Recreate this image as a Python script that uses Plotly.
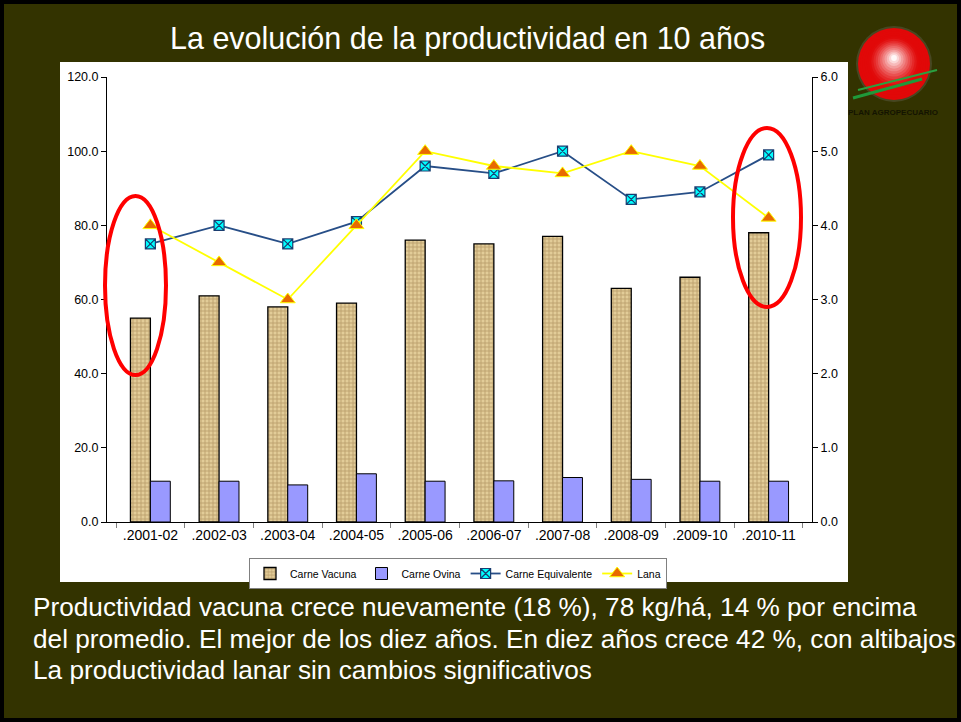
import plotly.graph_objects as go

# ---------------- data ----------------
categories = [".2001-02", ".2002-03", ".2003-04", ".2004-05", ".2005-06",
              ".2006-07", ".2007-08", ".2008-09", ".2009-10", ".2010-11"]
carne_vacuna = [55, 61, 58, 59, 76, 75, 77, 63, 66, 78]
carne_ovina = [11, 11, 10, 13, 11, 11.1, 12, 11.5, 11, 11]
carne_equivalente = [75, 80, 75, 81, 96, 94, 100, 87, 89, 99]
lana = [4.0, 3.5, 3.0, 4.0, 5.0, 4.8, 4.7, 5.0, 4.8, 4.1]

title_text = "La evolución de la productividad en 10 años"
note_lines = [
    "Productividad vacuna crece nuevamente (18 %), 78 kg/há, 14 % por encima",
    "del promedio. El mejor de los diez años. En diez años crece 42 %, con altibajos",
    "La productividad lanar sin cambios significativos",
]

# ---------------- geometry helpers (pixel -> paper) ----------------
W, H = 961, 722
L, R, T, B = 107, 812, 77, 522


def px(x):
    return (x - L) / (R - L)


def py(y):
    return (B - y) / (B - T)


ARIAL = "Liberation Sans, Arial, sans-serif"

fig = go.Figure()

fig.add_trace(go.Bar(
    x=categories, y=carne_vacuna, name="Carne Vacuna",
    marker=dict(color="#d9c08c", line=dict(color="#000000", width=1.3),
                pattern=dict(shape="+", bgcolor="#e2cc98", fgcolor="#94723f",
                             size=4, solidity=0.4)),
))
fig.add_trace(go.Bar(
    x=categories, y=carne_ovina, name="Carne Ovina",
    marker=dict(color="#9999ff", line=dict(color="#000000", width=1)),
))
fig.add_trace(go.Scatter(
    x=categories, y=carne_equivalente, name="Carne Equivalente",
    mode="lines+markers",
    line=dict(color="#274e87", width=1.8),
    marker=dict(symbol="square-x", size=10, color="#00ffff",
                line=dict(color="#1a3d70", width=1.2)),
))
fig.add_trace(go.Scatter(
    x=categories, y=lana, name="Lana", yaxis="y2",
    mode="lines+markers",
    line=dict(color="#ffff00", width=1.8),
    marker=dict(symbol="triangle-up", size=13, color="#e86a00",
                line=dict(color="#ffff00", width=1)),
))

shapes = []
# white chart box
shapes.append(dict(type="rect", xref="paper", yref="paper",
                   x0=px(60), x1=px(848), y0=py(62), y1=py(582),
                   fillcolor="#ffffff", line=dict(width=0), layer="below"))
# black outer frame (four thin bands)
for (a, b, c, d) in [(0, 0, W, 4), (0, H - 4, W, H), (0, 0, 4, H), (W - 4, 0, W, H)]:
    shapes.append(dict(type="rect", xref="paper", yref="paper",
                       x0=px(a), x1=px(c), y0=py(b), y1=py(d),
                       fillcolor="#000000", line=dict(width=0), layer="above"))

# logo sphere (concentric circles approximating radial gradient)
cx, cy, rad = 894, 64, 36
shapes.append(dict(type="circle", xref="paper", yref="paper",
                   x0=px(cx - rad - 2), x1=px(cx + rad + 2),
                   y0=py(cy - rad - 2), y1=py(cy + rad + 2),
                   fillcolor="rgba(120,120,110,0.3)", line=dict(width=0)))
n = 16
for i in range(n):
    f = i / (n - 1)
    r = rad * (1 - f * 0.92)
    t = max(0.0, (f - 0.3) / 0.7) ** 1.4
    col = "rgb(%d,%d,%d)" % (int(225 + 30 * t), int(8 + 240 * t), int(8 + 240 * t))
    oy = -6 * f
    shapes.append(dict(type="circle", xref="paper", yref="paper",
                       x0=px(cx - r), x1=px(cx + r),
                       y0=py(cy + oy - r), y1=py(cy + oy + r),
                       fillcolor=col, line=dict(width=0)))
# green streaks
shapes.append(dict(type="line", xref="paper", yref="paper",
                   x0=px(853), y0=py(98), x1=px(922), y1=py(79),
                   line=dict(color="#1f9a3a", width=3)))
shapes.append(dict(type="line", xref="paper", yref="paper",
                   x0=px(858), y0=py(90), x1=px(937), y1=py(70),
                   line=dict(color="#2aa040", width=2)))

# red ellipses
shapes.append(dict(type="circle", xref="paper", yref="paper",
                   x0=px(105), x1=px(166), y0=py(196), y1=py(375),
                   line=dict(color="#ff0000", width=4)))
shapes.append(dict(type="circle", xref="paper", yref="paper",
                   x0=px(733), x1=px(801), y0=py(128), y1=py(307),
                   line=dict(color="#ff0000", width=4)))

annotations = [
    dict(text=title_text, xref="paper", yref="paper", x=px(467), y=py(38),
         xanchor="center", yanchor="middle", showarrow=False,
         font=dict(family=ARIAL, size=30.5, color="#ffffff")),
    dict(text="<b>PLAN AGROPECUARIO</b>", xref="paper", yref="paper", x=px(893), y=py(113),
         xanchor="center", yanchor="middle", showarrow=False,
         font=dict(family=ARIAL, size=8, color="#141400")),
]
note_y = [607, 638.5, 670]
for line, yy in zip(note_lines, note_y):
    annotations.append(dict(text=line, xref="paper", yref="paper",
                            x=px(31), y=py(yy),
                            xanchor="left", yanchor="middle", showarrow=False,
                            font=dict(family=ARIAL, size=26.2, color="#ffffff")))

fig.update_layout(
    width=W, height=H,
    margin=dict(l=L, r=W - R, t=T, b=H - B, pad=0),
    paper_bgcolor="#333300",
    plot_bgcolor="#808080",
    barmode="group", bargap=0.42, bargroupgap=0,
    showlegend=True,
    legend=dict(orientation="h", x=px(458), y=py(558), xanchor="center", yanchor="top",
                bgcolor="#ffffff", bordercolor="#808080", borderwidth=1,
                font=dict(family=ARIAL, size=10.5, color="#000000"),
                itemwidth=30, tracegroupgap=0),
    xaxis=dict(showgrid=False, showline=True, linecolor="#000000", linewidth=1,
               ticks="outside", tickson="boundaries", ticklen=5, tickcolor="#808080",
               tickfont=dict(family=ARIAL, size=14, color="#000000"),
               zeroline=False),
    yaxis=dict(range=[0, 120], dtick=20, tickformat=".1f", showgrid=False,
               showline=True, linecolor="#000000", linewidth=1,
               ticks="outside", ticklen=5, tickcolor="#000000",
               tickfont=dict(family=ARIAL, size=12.5, color="#000000"),
               zeroline=False),
    yaxis2=dict(range=[0, 6], dtick=1, tickformat=".1f", overlaying="y", side="right",
                showgrid=False, showline=True, linecolor="#000000", linewidth=1,
                ticks="outside", ticklen=5, tickcolor="#000000",
                tickfont=dict(family=ARIAL, size=12.5, color="#000000"),
                zeroline=False),
    shapes=shapes,
    annotations=annotations,
)

fig.write_html("out.html",
               config={"displayModeBar": False},
               post_script="document.body.style.margin='0';document.body.style.overflow='hidden';")
